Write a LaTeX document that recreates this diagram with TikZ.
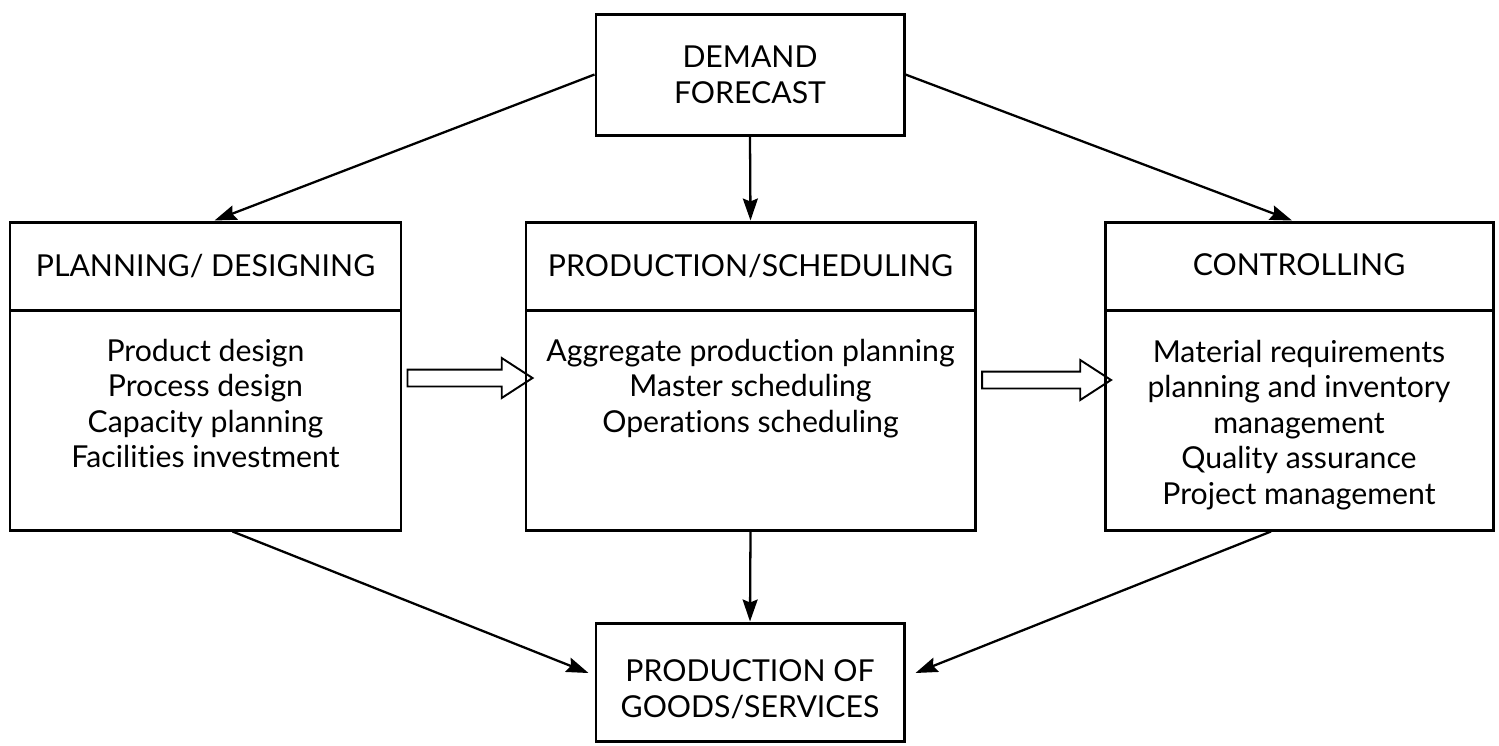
\documentclass[tikz,border=0pt]{standalone}
\usepackage{fontspec}
\setmainfont{Lato}[Ligatures=NoCommon]
\usetikzlibrary{arrows.meta,shapes.arrows,calc,fit}
\begin{document}
\begin{tikzpicture}[x=0.02cm,y=-0.02cm,
  box/.style={draw,line width=1.7pt,inner sep=0pt},
  txt/.style={inner sep=0pt,align=center,anchor=north,
    font=\fontsize{17.2}{20.2}\selectfont},
  conn/.style={line width=1.3pt,-{Stealth[length=0.44cm,width=0.3cm,inset=0.06cm]}},
  fat/.style={single arrow,draw,line width=1.1pt,inner xsep=0pt,inner ysep=0.15cm,
    minimum width=0.76cm,single arrow head extend=0.23cm,
    single arrow tip angle=66,single arrow head indent=0pt}]
\useasboundingbox (0,0) rectangle (1499,745);

% boxes
\node[box,fit={(596,14) (904,135)}] (top) {};
\node[box,fit={(10,222) (401,310)}] (lhead) {};
\node[box,fit={(10,310) (401,530)}] (lbody) {};
\node[box,fit={(526,222) (975,310)}] (mhead) {};
\node[box,fit={(526,310) (975,530)}] (mbody) {};
\node[box,fit={(1105,222) (1493,310)}] (rhead) {};
\node[box,fit={(1105,310) (1493,530)}] (rbody) {};
\node[box,fit={(596,623) (904,741)}] (bot) {};

% box titles
\node[txt] (toptxt) at ($(top.north)+(0,33)$) {DEMAND\\FORECAST};
\node[txt] (lhtxt) at ($(lhead.north)+(0,33)$) {PLANNING/ DESIGNING};
\node[txt] (mhtxt) at ($(mhead.north)+(0,33)$) {PRODUCTION/SCHEDULING};
\node[txt] (rhtxt) at ($(rhead.north)+(0,33)$) {CONTROLLING};
\node[txt] (bottxt) at ($(bot.north)+(0,38)$) {PRODUCTION OF\\GOODS/SERVICES};

% box contents
\node[txt] (ltxt) at ($(lbody.north)+(0,30)$)
  {Product design\\Process design\\Capacity planning\\Facilities investment};
\node[txt] (mtxt) at ($(mbody.north)+(0,30)$)
  {Aggregate production planning\\Master scheduling\\Operations scheduling};
\node[txt] (rtxt) at ($(rbody.north)+(0,31)$)
  {Material requirements\\planning and inventory\\management\\Quality assurance\\Project management};

% flow between the stages
\node[fat,minimum height=2.5cm] (f1) at ($(lbody.east)!0.5!(mbody.west)+(0,-42)$) {};
\node[fat,minimum height=2.58cm] (f2) at ($(mbody.east)!0.5!(rbody.west)+(0,-40)$) {};

% connectors
\draw[conn] (top.west) -- ($(lhead.north)+(9,0)$);
\draw[conn] (top.east) -- ($(rhead.north)+(-7,0)$);
\draw[conn] (top.south) -- (mhead.north);
\draw[conn] (mbody.south) -- (bot.north);
\draw[conn] ($(lbody.south)+(27,0)$) -- ($(bot.west)+(-6,-9)$);
\draw[conn] ($(rbody.south)+(-28,0)$) -- ($(bot.east)+(10,-9)$);
\end{tikzpicture}
\end{document}
